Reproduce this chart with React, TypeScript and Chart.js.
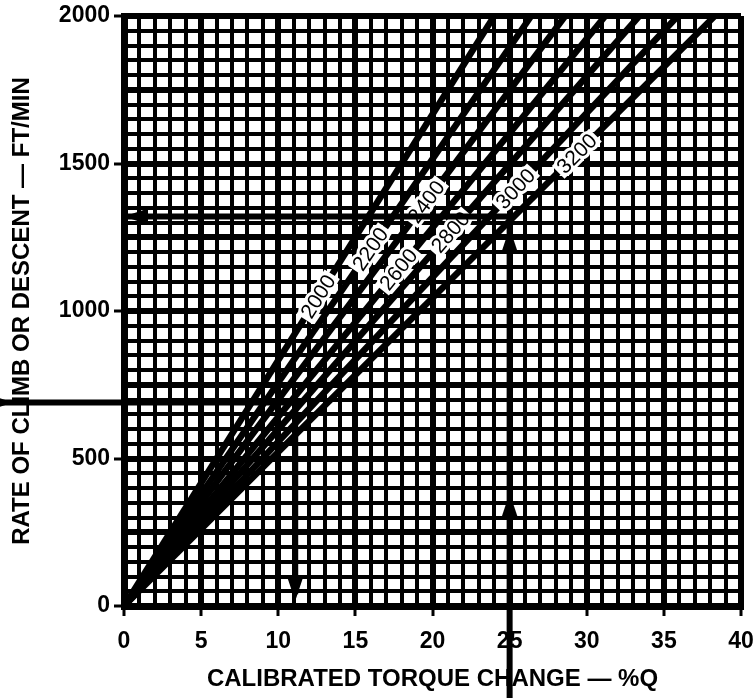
import React, { useEffect, useRef } from "react";
import { Chart, registerables } from "chart.js";

Chart.register(...registerables);

// Gross weight lines (lb) and the torque change (%Q) where each reaches 2000 ft/min
const weights = [2000, 2200, 2400, 2600, 2800, 3000, 3200];
const torqueAtTop = [24.0, 26.4, 28.6, 31.2, 33.4, 35.9, 38.3];
// rate of climb (ft/min) where each weight label sits on its line
const labelRate = [1049, 1210, 1370, 1141, 1267, 1414, 1533];

// axis ranges / labelled ticks
const xMin = 0;
const xMax = 40;
const xMinorStep = 1;
const xMajorStep = 5;
const yMin = 0;
const yMax = 2000;
const yMinorStep = 50;
const yMajorStep = 250;
const yLabelStep = 500;

// example: climb path (25 %Q up to the 3200 line, then across to rate axis)
const climbPathX = [25, 25, 0];
const climbPathY = [-320, 1320, 1320];
// example: descent path (690 ft/min across, then down to torque axis)
const descentPathX = [-8.3, 11.1, 11.1];
const descentPathY = [690, 690, 40];

// arrowheads (tip positions) and their directions
const arrowX = [25, 25, 0, -7.2, 11.1];
const arrowY = [383, 1282, 1320, 690, 17];
const arrowDir = ["up", "up", "left", "right", "down"];

const FONT = "'Liberation Sans', Arial, sans-serif";

const overlayPlugin = {
  id: "overlay",
  afterDatasetsDraw(chart: any) {
    const ctx = chart.ctx;
    const xs = chart.scales.x;
    const ys = chart.scales.y;
    const px = (v: number) => xs.getPixelForValue(v);
    const py = (v: number) => ys.getPixelForValue(v);

    // weight labels along lines
    ctx.save();
    ctx.font = `21px ${FONT}`;
    ctx.textAlign = "center";
    ctx.textBaseline = "middle";
    weights.forEach((w, i) => {
      const yv = labelRate[i];
      const xv = (yv * torqueAtTop[i]) / yMax;
      const x0 = px(0), y0 = py(0);
      const x1 = px(torqueAtTop[i]), y1 = py(yMax);
      const ang = Math.atan2(y1 - y0, x1 - x0);
      ctx.save();
      ctx.translate(px(xv), py(yv));
      ctx.rotate(ang);
      const tw = ctx.measureText(String(w)).width;
      ctx.fillStyle = "#fff";
      ctx.fillRect(-tw / 2 - 3, -9, tw + 6, 18);
      ctx.lineWidth = 6;
      ctx.lineJoin = "round";
      ctx.strokeStyle = "#fff";
      ctx.strokeText(String(w), 0, 1);
      ctx.fillStyle = "#000";
      ctx.fillText(String(w), 0, 1);
      ctx.restore();
    });
    ctx.restore();

    // example paths
    ctx.save();
    ctx.strokeStyle = "#000";
    ctx.lineWidth = 6;
    ctx.lineCap = "butt";
    const drawPath = (xsArr: number[], ysArr: number[]) => {
      ctx.beginPath();
      xsArr.forEach((xv, i) => {
        const X = px(xv), Y = py(ysArr[i]);
        if (i === 0) ctx.moveTo(X, Y);
        else ctx.lineTo(X, Y);
      });
      ctx.stroke();
    };
    drawPath(climbPathX, climbPathY);
    drawPath(descentPathX, descentPathY);

    // arrowheads
    ctx.fillStyle = "#000";
    arrowX.forEach((xv, i) => {
      const X = px(xv), Y = py(arrowY[i]);
      const L = 24, H = 8;
      ctx.beginPath();
      ctx.moveTo(X, Y);
      switch (arrowDir[i]) {
        case "up":
          ctx.lineTo(X - H, Y + L); ctx.lineTo(X + H, Y + L); break;
        case "down":
          ctx.lineTo(X - H, Y - L); ctx.lineTo(X + H, Y - L); break;
        case "left":
          ctx.lineTo(X + L, Y - H); ctx.lineTo(X + L, Y + H); break;
        case "right":
          ctx.lineTo(X - L, Y - H); ctx.lineTo(X - L, Y + H); break;
      }
      ctx.closePath();
      ctx.fill();
    });
    ctx.restore();
  },
};

export default function App() {
  const ref = useRef<HTMLCanvasElement | null>(null);

  useEffect(() => {
    if (!ref.current) return;
    const datasets = weights.map((w, i) => ({
      label: String(w),
      data: [
        { x: 0, y: 0 },
        { x: torqueAtTop[i], y: yMax },
      ],
      showLine: true,
      borderColor: "#000",
      backgroundColor: "#000",
      borderWidth: 6.5,
      pointRadius: 0,
      fill: false,
    }));

    const isMajor = (v: number, step: number) => Math.abs(v / step - Math.round(v / step)) < 1e-6;

    const chart = new Chart(ref.current, {
      type: "scatter",
      data: { datasets },
      plugins: [overlayPlugin],
      options: {
        animation: false,
        responsive: false,
        devicePixelRatio: 1,
        layout: { padding: { top: 16, right: 15, left: 0, bottom: 0 } },
        plugins: {
          legend: { display: false },
          tooltip: { enabled: false },
        },
        scales: {
          x: {
            type: "linear",
            min: xMin,
            max: xMax,
            ticks: {
              stepSize: xMinorStep,
              autoSkip: false,
              maxRotation: 0,
              padding: 12,
              color: "#000",
              font: { family: FONT, size: 23, weight: "bold" },
              callback: (v: any) => (isMajor(Number(v), xMajorStep) ? String(v) : ""),
            },
            grid: {
              color: "#000",
              lineWidth: (c: any) => (c.tick && isMajor(c.tick.value, xMajorStep) ? 6 : 4),
              tickLength: 10,
              tickWidth: 3,
              tickColor: (c: any) =>
                c.tick && isMajor(c.tick.value, xMajorStep) ? "#000" : "rgba(0,0,0,0)",
            },
            border: { display: true, color: "#000", width: 7 },
            title: {
              display: true,
              text: "CALIBRATED TORQUE CHANGE — %Q",
              color: "#000",
              font: { family: FONT, size: 24, weight: "bold" },
              padding: { top: 0, bottom: 4 },
            },
            afterFit: (s: any) => {
              s.height = 92;
              s.paddingLeft = 0;
              s.paddingRight = 0;
            },
          },
          y: {
            type: "linear",
            min: yMin,
            max: yMax,
            ticks: {
              stepSize: yMinorStep,
              autoSkip: false,
              padding: 4,
              color: "#000",
              font: { family: FONT, size: 23, weight: "bold" },
              callback: (v: any) => (isMajor(Number(v), yLabelStep) ? String(v) : ""),
            },
            grid: {
              color: "#000",
              lineWidth: (c: any) => (c.tick && isMajor(c.tick.value, yMajorStep) ? 6 : 4),
              tickLength: 10,
              tickWidth: 3,
              tickColor: (c: any) =>
                c.tick && isMajor(c.tick.value, yLabelStep) ? "#000" : "rgba(0,0,0,0)",
            },
            border: { display: true, color: "#000", width: 7 },
            title: {
              display: true,
              text: "RATE OF CLIMB OR DESCENT — FT/MIN",
              color: "#000",
              font: { family: FONT, size: 24, weight: "bold" },
              padding: { top: 8, bottom: 0 },
            },
            afterFit: (s: any) => {
              s.width = 124;
              s.paddingTop = 0;
              s.paddingBottom = 0;
            },
          },
        },
      },
    } as any);

    return () => chart.destroy();
  }, []);

  return (
    <div style={{ position: "fixed", left: 0, top: 0, width: 756, height: 698, background: "#fff" }}>
      <canvas ref={ref} width={756} height={698} style={{ display: "block", width: 756, height: 698 }} />
    </div>
  );
}
